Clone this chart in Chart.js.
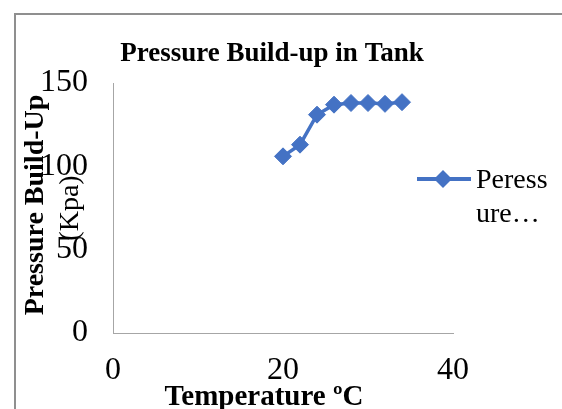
<!DOCTYPE html>
<html>
<head>
<meta charset="utf-8">
<script src="https://cdn.jsdelivr.net/npm/chart.js@4"></script>
<style>
  html, body { margin: 0; padding: 0; background: #fff; }
  #wrap { width: 562px; height: 409px; }
</style>
</head>
<body>
<div id="wrap"><canvas id="chart" width="562" height="409"></canvas></div>
<script>
// data
const temperatures = [20, 22, 24, 26, 28, 30, 32, 34];
const pressures = [106, 113, 131, 137, 138, 138, 137.5, 138.5];
const xTicks = [0, 20, 40];
const yTicks = [0, 50, 100, 150];

const chartTitle = 'Pressure Build-up in Tank';
const xTitle = 'Temperature ºC';
const yTitleLines = ['Pressure Build-Up', '(Kpa)'];
const seriesLabel = 'Peressure';
const legendLines = ['Peress', 'ure…'];

const serif = '"Liberation Serif", "Times New Roman", serif';
const blue = '#4472C4';

// titles, outer frame and the clipped legend
const decorations = {
  id: 'decorations',
  afterDraw(chart) {
    const ctx = chart.ctx;
    ctx.save();

    // outer frame (only top and left edges are visible)
    ctx.strokeStyle = '#8f8f8f';
    ctx.lineWidth = 2;
    ctx.beginPath();
    ctx.moveTo(15, 409);
    ctx.lineTo(15, 14);
    ctx.lineTo(562, 14);
    ctx.stroke();

    ctx.fillStyle = '#000';
    ctx.textAlign = 'center';
    ctx.textBaseline = 'alphabetic';
    ctx.font = 'bold 27px ' + serif;
    ctx.fillText(chartTitle, 272, 61);

    ctx.font = 'bold 29px ' + serif;
    ctx.fillText(xTitle, 264, 405);

    // y title, rotated
    ctx.save();
    ctx.translate(36, 205);
    ctx.rotate(-Math.PI / 2);
    ctx.textBaseline = 'middle';
    ctx.font = 'bold 28px ' + serif;
    ctx.fillText(yTitleLines[0], 0, 0);
    ctx.restore();

    ctx.save();
    ctx.translate(71, 208);
    ctx.rotate(-Math.PI / 2);
    ctx.textBaseline = 'middle';
    ctx.font = '28px ' + serif;
    ctx.fillText(yTitleLines[1], 0, 0);
    ctx.restore();

    // legend
    const ds = chart.data.datasets[0];
    ctx.strokeStyle = ds.borderColor;
    ctx.lineWidth = 4;
    ctx.beginPath();
    ctx.moveTo(417, 179);
    ctx.lineTo(471, 179);
    ctx.stroke();
    ctx.fillStyle = ds.pointBackgroundColor;
    ctx.beginPath();
    ctx.moveTo(443, 170);
    ctx.lineTo(452, 179);
    ctx.lineTo(443, 188);
    ctx.lineTo(434, 179);
    ctx.closePath();
    ctx.fill();

    ctx.fillStyle = '#000';
    ctx.textAlign = 'left';
    ctx.font = '28px ' + serif;
    ctx.fillText(legendLines[0], 476, 188);
    ctx.fillText(legendLines[1], 476, 222);

    ctx.restore();
  }
};

new Chart(document.getElementById('chart'), {
  type: 'line',
  data: {
    labels: temperatures,
    datasets: [{
      label: seriesLabel,
      data: temperatures.map((t, i) => ({ x: t, y: pressures[i] })),
      borderColor: blue,
      backgroundColor: blue,
      pointBackgroundColor: blue,
      pointBorderColor: blue,
      borderWidth: 3.5,
      pointStyle: 'rectRot',
      pointRadius: 8.5,
      pointBorderWidth: 1,
      tension: 0
    }]
  },
  options: {
    responsive: false,
    animation: false,
    layout: { padding: { left: 0, top: 83, right: 109, bottom: 0 } },
    plugins: {
      legend: { display: false },
      title: { display: false },
      tooltip: { enabled: false }
    },
    scales: {
      x: {
        type: 'linear',
        min: 0,
        max: 40,
        afterFit(scale) { scale.height = 76; },
        afterBuildTicks(scale) { scale.ticks = xTicks.map(v => ({ value: v })); },
        grid: { display: false, drawTicks: false },
        border: { display: true, color: '#a6a6a6', width: 1 },
        ticks: {
          padding: 18,
          color: '#000',
          maxRotation: 0,
          font: { family: serif, size: 32 }
        }
      },
      y: {
        type: 'linear',
        min: 0,
        max: 150,
        afterFit(scale) { scale.width = 113; },
        afterBuildTicks(scale) { scale.ticks = yTicks.map(v => ({ value: v })); },
        grid: { display: false, drawTicks: false },
        border: { display: true, color: '#a6a6a6', width: 1 },
        ticks: {
          padding: 25,
          color: '#000',
          font: { family: serif, size: 32 }
        }
      }
    }
  },
  plugins: [decorations]
});
</script>
</body>
</html>
